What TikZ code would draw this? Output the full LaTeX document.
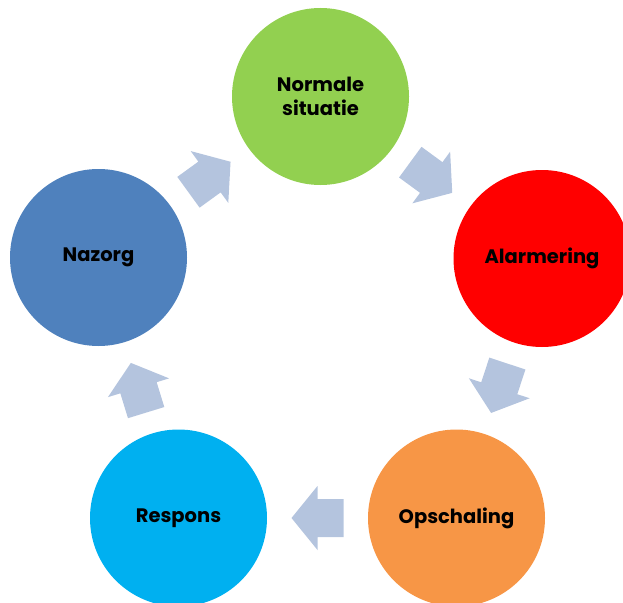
\documentclass[tikz,border=0pt]{standalone}
\usepackage{fontspec}
\setmainfont{Poppins}
\usetikzlibrary{calc}
\definecolor{cgreen}{HTML}{92D050}
\definecolor{cred}{HTML}{FF0000}
\definecolor{corange}{HTML}{F79646}
\definecolor{ccyan}{HTML}{00B0F0}
\definecolor{cblue}{HTML}{4F81BD}
\definecolor{carrow}{HTML}{B4C4DE}
\tikzset{
  phase/.style={circle, fill=#1, draw=none, minimum size=177pt, inner sep=0pt,
    align=center, font=\bfseries\fontsize{19.5}{24}\selectfont, text=black},
  blockarrow/.style={fill=carrow, draw=none}
}
% block arrow pointing along +x, centred on the origin
\newcommand{\cyclearrow}[2]{%
  \path let \p1 = ($(#2)-(#1)$), \n1 = {atan2(\y1,\x1)} in
    [blockarrow, shift={($(#1)!0.5!(#2)$)}, rotate=\n1]
    (-26pt,-19pt) -- (0pt,-19pt) -- (0pt,-32pt) -- (26pt,0pt)
    -- (0pt,32pt) -- (0pt,19pt) -- (-26pt,19pt) -- cycle;%
}
\begin{document}
\begin{tikzpicture}[x=1pt, y=-1pt]
  \useasboundingbox (0,0) rectangle (623,602);
  \node[phase=cgreen]  (normaal) at (320.5,96.5)  {Normale\\situatie};
  \node[phase=cred]    (alarm)   at (542,258.5)   {Alarmering};
  \node[phase=corange] (opsch)   at (456.5,518)   {Opschaling};
  \node[phase=ccyan]   (respons) at (178.5,518)   {Respons};
  \node[phase=cblue]   (nazorg)  at (98.5,257.5)  {Nazorg};
  \cyclearrow{normaal}{alarm}
  \cyclearrow{alarm}{opsch}
  \cyclearrow{opsch}{respons}
  \cyclearrow{respons}{nazorg}
  \cyclearrow{nazorg}{normaal}
\end{tikzpicture}
\end{document}
